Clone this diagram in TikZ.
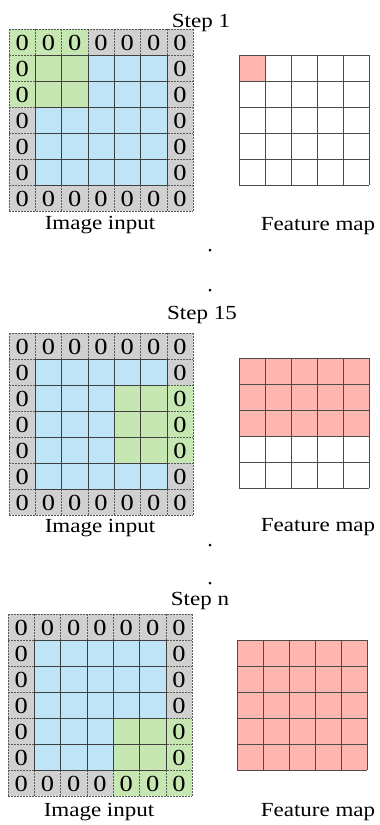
\documentclass[tikz,border=0pt]{standalone}
\usepackage{fontspec}
\setmainfont[FakeStretch=1.15]{Liberation Serif}
\definecolor{padgray}{RGB}{208,208,208}
\definecolor{inblue}{RGB}{190,228,245}
\definecolor{wingreen}{RGB}{198,230,178}
\definecolor{featred}{RGB}{255,182,176}
\tikzset{
  lbl/.style={font=\fontsize{20}{24}\selectfont, anchor=base, inner sep=0},
  zero/.style={font=\fontsize{23}{26}\selectfont, inner sep=0},
  padline/.style={draw=black!65, line width=0.6pt, dash pattern=on 1.6pt off 1.4pt},
  gridline/.style={draw=black!75, line width=0.6pt},
  featline/.style={draw=black!70, line width=0.6pt},
  dotmark/.style={circle, fill=black, inner sep=0, minimum size=3pt},
}
\newcommand{\PadGrid}[4]{%
  \begin{scope}[shift={(#1,#2)}]
    \fill[padgray] (0,0) rectangle ({7*26.3},{7*26});
    \fill[inblue] (26.3,26) rectangle ({6*26.3},{6*26});
    \fill[wingreen] ({#3*26.3},{#4*26}) rectangle ({(#3+3)*26.3},{(#4+3)*26});
    \foreach \i in {0,...,7} {
      \draw[padline] ({\i*26.3},0) -- ({\i*26.3},{7*26});
      \draw[padline] (0,{\i*26}) -- ({7*26.3},{\i*26});
    }
    \foreach \i in {1,...,6} {
      \draw[gridline] ({\i*26.3},26) -- ({\i*26.3},{6*26});
      \draw[gridline] (26.3,{\i*26}) -- ({6*26.3},{\i*26});
    }
    \foreach \i in {0,...,6} {
      \node[zero] at ({(\i+0.5)*26.3},13.5) {0};
      \node[zero] at ({(\i+0.5)*26.3},{6.5*26+0.5}) {0};
    }
    \foreach \j in {1,...,5} {
      \node[zero] at (13.15,{(\j+0.5)*26+0.5}) {0};
      \node[zero] at ({6.5*26.3},{(\j+0.5)*26+0.5}) {0};
    }
  \end{scope}}
\newcommand{\FeatGrid}[2]{%
  \begin{scope}[shift={(#1,#2)}]
    \foreach \i in {0,...,5} {
      \draw[featline] ({\i*26},0) -- ({\i*26},130);
      \draw[featline] (0,{\i*26}) -- (130,{\i*26});
    }
  \end{scope}}
\begin{document}
\begin{tikzpicture}[x=1pt,y=-1pt]
\useasboundingbox (0,0) rectangle (380,825);
% Step 1
\PadGrid{9}{29}{0}{0}
\fill[featred] (239,55) rectangle (265,81);
\FeatGrid{239}{55}
\node[lbl] (s1) at (201,27) {Step 1};
\node[lbl] (in1) at (100,229) {Image input};
\node[lbl] (fm1) at (318,230) {Feature map};
\node[dotmark] (d1) at (210,250) {};
\node[dotmark] (d2) at (210,290) {};
% Step 15
\PadGrid{9}{333}{4}{2}
\fill[featred] (239,358) rectangle (369,436);
\FeatGrid{239}{358}
\node[lbl] (s15) at (202,319) {Step 15};
\node[lbl] (in15) at (100,532) {Image input};
\node[lbl] (fm15) at (318,531) {Feature map};
\node[dotmark] (d3) at (210,545) {};
\node[dotmark] (d4) at (210,583) {};
% Step n
\PadGrid{8}{614}{4}{4}
\fill[featred] (237,640) rectangle (367,770);
\FeatGrid{237}{640}
\node[lbl] (sn) at (200,605) {Step n};
\node[lbl] (inn) at (99,816) {Image input};
\node[lbl] (fmn) at (318,816) {Feature map};
\end{tikzpicture}
\end{document}
